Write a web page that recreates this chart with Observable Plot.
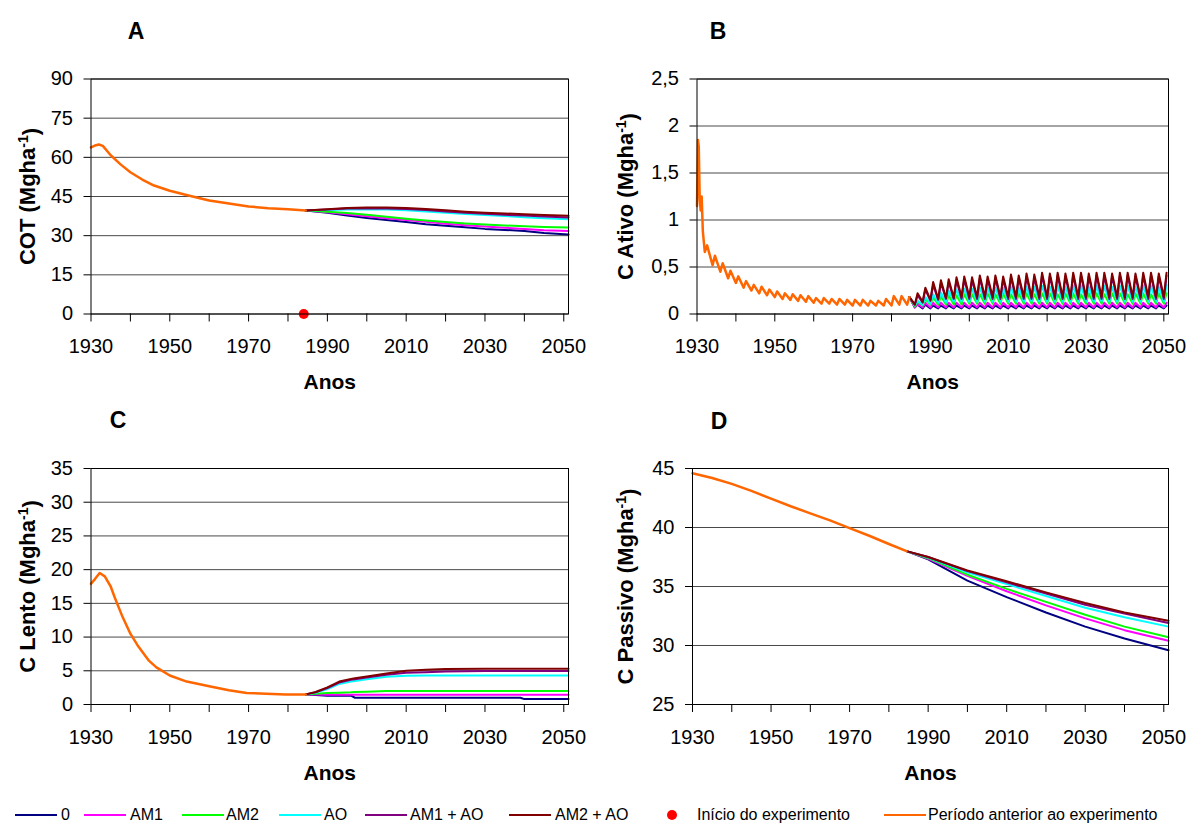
<!DOCTYPE html>
<html><head><meta charset="utf-8">
<script src="https://cdn.jsdelivr.net/npm/d3@7"></script>
<script src="https://cdn.jsdelivr.net/npm/@observablehq/plot@0.6"></script>
<style>
body{margin:0;background:#fff;font-family:'Liberation Sans',Arial,sans-serif;}
#root{position:relative;width:1189px;height:825px;overflow:hidden;background:#fff;}
#root svg{position:absolute;}
.ptitle{position:absolute;font-weight:bold;font-size:23px;transform:translate(-50%,-50%);line-height:1;}
.legtext{position:absolute;font-size:16px;white-space:nowrap;line-height:1;}
.legsw{position:absolute;height:2px;}
.legdot{position:absolute;width:10px;height:10px;border-radius:50%;}
</style></head><body><div id="root"></div><script>
// ---------- shared data ----------
const seriesNames = ["0", "AM1", "AM2", "AO", "AM1 + AO", "AM2 + AO"];
const seriesColors = ["#000080", "#FF00FF", "#00FF00", "#00FFFF", "#800080", "#800000"];
const preLabel = "Período anterior ao experimento";
const preColor = "#FF6600";
const startLabel = "Início do experimento";
const startColor = "#FF0000";
const startYear = 1984;
const xTicks = [1930, 1940, 1950, 1960, 1970, 1980, 1990, 2000, 2010, 2020, 2030, 2040, 2050];
const xLabelYears = [1930, 1950, 1970, 1990, 2010, 2030, 2050];
const xTitle = "Anos";
const panelLetters = ["A", "B", "C", "D"];

// ---------- A: COT ----------
const aTitle = "COT (Mgha⁻¹)";
const aTicks = [0, 15, 30, 45, 60, 75, 90];
const aPreYears = [1930, 1931, 1932, 1933, 1935, 1937.5, 1940, 1943, 1946, 1950, 1955, 1960, 1965, 1970, 1975, 1980, 1984.5];
const aPre = [63.8, 64.5, 64.9, 64.4, 60.8, 57.3, 54.3, 51.5, 49.2, 47.2, 45.3, 43.5, 42.3, 41.2, 40.5, 40.1, 39.6];
const aPostYears = [1984.5, 1990, 1995, 2000, 2005, 2010, 2015, 2020, 2025, 2030, 2035, 2040, 2045, 2051.2];
const a0 = [39.6, 38.8, 37.7, 36.8, 36.0, 35.2, 34.4, 33.8, 33.2, 32.6, 32.2, 31.8, 31.0, 30.4];
const aAM1 = [39.6, 39.0, 38.2, 37.4, 36.7, 36.0, 35.3, 34.6, 34.0, 33.5, 33.0, 32.6, 32.1, 31.8];
const aAM2 = [39.6, 39.2, 38.7, 38.0, 37.2, 36.5, 35.8, 35.2, 34.7, 34.3, 33.9, 33.6, 33.3, 33.1];
const aAO = [39.6, 39.8, 40.0, 40.1, 40.0, 39.7, 39.3, 38.8, 38.3, 37.9, 37.5, 37.1, 36.7, 36.3];
const aAM1AO = [39.6, 40.0, 40.4, 40.5, 40.4, 40.2, 39.8, 39.3, 38.8, 38.4, 38.0, 37.7, 37.3, 37.0];
const aAM2AO = [39.6, 40.1, 40.6, 40.8, 40.8, 40.6, 40.2, 39.7, 39.2, 38.8, 38.5, 38.2, 37.9, 37.6];

// ---------- B: C Ativo ----------
const bTitle = "C Ativo (Mgha⁻¹)";
const bTicks = [0, 0.5, 1, 1.5, 2, 2.5];
const bSpikeYears = [1930, 1930.25, 1930.45, 1930.7, 1930.95, 1931.2, 1931.5, 1931.8];
const bSpike = [1.15, 1.85, 1.78, 1.22, 1.1, 1.25, 0.88, 0.75];
const bPreCycleYears = [1932, 1934, 1936, 1938, 1940, 1942, 1944, 1946, 1948, 1950, 1952, 1954, 1956, 1958, 1960, 1962, 1964, 1966, 1968, 1970, 1972, 1974, 1976, 1978, 1980, 1982, 1984];
const bPrePeak = [0.73, 0.62, 0.54, 0.46, 0.40, 0.35, 0.31, 0.29, 0.26, 0.24, 0.22, 0.21, 0.20, 0.19, 0.17, 0.17, 0.16, 0.16, 0.15, 0.15, 0.15, 0.14, 0.14, 0.16, 0.19, 0.19, 0.18];
const bPreTrough = [0.66, 0.52, 0.45, 0.38, 0.33, 0.28, 0.25, 0.22, 0.20, 0.18, 0.16, 0.15, 0.14, 0.13, 0.12, 0.11, 0.11, 0.10, 0.10, 0.09, 0.09, 0.09, 0.09, 0.09, 0.09, 0.10, 0.10];
const bCycleYears = [1986, 1988, 1990, 1992, 1994, 1996, 1998, 2000, 2002, 2004, 2006, 2008, 2010, 2012, 2014, 2016, 2018, 2020, 2022, 2024, 2026, 2028, 2030, 2032, 2034, 2036, 2038, 2040, 2042, 2044, 2046, 2048, 2050];
const b0Peak = [0.10, 0.10, 0.09, 0.09, 0.09, 0.09, 0.09, 0.09, 0.09, 0.09, 0.09, 0.09, 0.09, 0.09, 0.09, 0.09, 0.09, 0.09, 0.09, 0.09, 0.09, 0.09, 0.09, 0.09, 0.09, 0.09, 0.09, 0.09, 0.09, 0.09, 0.09, 0.09, 0.09];
const b0Trough = [0.07, 0.06, 0.06, 0.06, 0.06, 0.06, 0.06, 0.06, 0.06, 0.06, 0.06, 0.06, 0.06, 0.06, 0.06, 0.06, 0.06, 0.06, 0.06, 0.06, 0.06, 0.06, 0.06, 0.06, 0.06, 0.06, 0.06, 0.06, 0.06, 0.06, 0.06, 0.06, 0.06];
const bAM1Peak = [0.11, 0.12, 0.12, 0.12, 0.12, 0.12, 0.12, 0.12, 0.12, 0.12, 0.12, 0.12, 0.12, 0.12, 0.12, 0.12, 0.12, 0.12, 0.12, 0.12, 0.12, 0.12, 0.12, 0.12, 0.12, 0.12, 0.12, 0.12, 0.12, 0.12, 0.12, 0.12, 0.12];
const bAM1Trough = [0.07, 0.07, 0.07, 0.07, 0.07, 0.07, 0.07, 0.07, 0.07, 0.07, 0.07, 0.07, 0.07, 0.07, 0.07, 0.07, 0.07, 0.07, 0.07, 0.07, 0.07, 0.07, 0.07, 0.07, 0.07, 0.07, 0.07, 0.07, 0.07, 0.07, 0.07, 0.07, 0.07];
const bAM2Peak = [0.13, 0.16, 0.18, 0.19, 0.20, 0.20, 0.21, 0.21, 0.21, 0.22, 0.21, 0.22, 0.21, 0.22, 0.22, 0.21, 0.22, 0.22, 0.21, 0.22, 0.22, 0.21, 0.22, 0.22, 0.21, 0.22, 0.22, 0.21, 0.22, 0.22, 0.21, 0.22, 0.22];
const bAM2Trough = [0.08, 0.09, 0.10, 0.10, 0.10, 0.10, 0.10, 0.11, 0.11, 0.11, 0.11, 0.11, 0.11, 0.11, 0.11, 0.11, 0.11, 0.11, 0.11, 0.11, 0.11, 0.11, 0.11, 0.11, 0.11, 0.11, 0.11, 0.11, 0.11, 0.11, 0.11, 0.11, 0.11];
const bAOPeak = [0.14, 0.18, 0.21, 0.23, 0.25, 0.26, 0.27, 0.27, 0.28, 0.28, 0.28, 0.28, 0.29, 0.28, 0.29, 0.29, 0.30, 0.29, 0.30, 0.29, 0.30, 0.30, 0.29, 0.30, 0.30, 0.29, 0.30, 0.30, 0.29, 0.30, 0.30, 0.29, 0.31];
const bAOTrough = [0.09, 0.10, 0.11, 0.12, 0.12, 0.13, 0.13, 0.13, 0.13, 0.13, 0.13, 0.13, 0.13, 0.13, 0.13, 0.13, 0.13, 0.13, 0.13, 0.13, 0.13, 0.13, 0.13, 0.13, 0.13, 0.13, 0.13, 0.13, 0.13, 0.13, 0.13, 0.13, 0.13];
const bAM1AOPeak = [0.20, 0.26, 0.31, 0.33, 0.34, 0.36, 0.37, 0.36, 0.38, 0.37, 0.38, 0.37, 0.39, 0.38, 0.40, 0.39, 0.41, 0.40, 0.41, 0.40, 0.41, 0.41, 0.40, 0.41, 0.41, 0.40, 0.41, 0.41, 0.40, 0.41, 0.41, 0.40, 0.41];
const bAM1AOTrough = [0.10, 0.12, 0.14, 0.15, 0.16, 0.16, 0.16, 0.16, 0.16, 0.16, 0.16, 0.16, 0.16, 0.16, 0.16, 0.16, 0.16, 0.16, 0.16, 0.16, 0.16, 0.16, 0.16, 0.16, 0.16, 0.16, 0.16, 0.16, 0.16, 0.16, 0.16, 0.16, 0.16];
const bAM2AOPeak = [0.22, 0.28, 0.34, 0.36, 0.37, 0.39, 0.40, 0.39, 0.41, 0.40, 0.41, 0.40, 0.42, 0.41, 0.43, 0.42, 0.44, 0.43, 0.44, 0.43, 0.44, 0.44, 0.43, 0.44, 0.44, 0.43, 0.44, 0.44, 0.43, 0.44, 0.44, 0.43, 0.44];
const bAM2AOTrough = [0.10, 0.13, 0.15, 0.16, 0.17, 0.17, 0.18, 0.18, 0.18, 0.18, 0.18, 0.18, 0.18, 0.18, 0.18, 0.18, 0.18, 0.18, 0.18, 0.18, 0.18, 0.18, 0.18, 0.18, 0.18, 0.18, 0.18, 0.18, 0.18, 0.18, 0.18, 0.18, 0.18];

// ---------- C: C Lento ----------
const cTitle = "C Lento (Mgha⁻¹)";
const cTicks = [0, 5, 10, 15, 20, 25, 30, 35];
const cPreYears = [1930, 1931, 1932.2, 1933.5, 1935, 1936, 1938, 1940, 1941.8, 1944.7, 1946.6, 1950, 1954.3, 1960, 1965, 1969.5, 1974.5, 1979.4, 1984.5];
const cPre = [17.9, 18.6, 19.5, 19.0, 17.5, 15.9, 13.0, 10.5, 8.8, 6.5, 5.5, 4.3, 3.4, 2.7, 2.1, 1.7, 1.6, 1.5, 1.5];
const cPostYears = [1984.5, 1987, 1990, 1993, 1996, 1997, 2000, 2005, 2010, 2015, 2020, 2030, 2039, 2040, 2051.2];
const c0 = [1.5, 1.4, 1.3, 1.3, 1.3, 1.0, 1.0, 1.0, 1.0, 1.0, 1.0, 1.0, 1.0, 0.8, 0.8];
const cAM1 = [1.5, 1.5, 1.45, 1.45, 1.45, 1.45, 1.45, 1.45, 1.45, 1.45, 1.45, 1.45, 1.45, 1.45, 1.45];
const cAM2 = [1.5, 1.6, 1.7, 1.75, 1.8, 1.85, 1.9, 2.0, 2.0, 2.0, 2.0, 2.0, 2.0, 2.0, 2.0];
const cAO = [1.5, 1.75, 2.3, 3.05, 3.4, 3.5, 3.75, 4.1, 4.25, 4.3, 4.3, 4.3, 4.3, 4.3, 4.3];
const cAM1AO = [1.5, 1.8, 2.45, 3.25, 3.65, 3.75, 4.0, 4.4, 4.7, 4.8, 4.9, 4.95, 4.95, 4.95, 4.95];
const cAM2AO = [1.5, 1.85, 2.55, 3.4, 3.8, 3.9, 4.15, 4.6, 5.0, 5.15, 5.25, 5.3, 5.3, 5.3, 5.3];

// ---------- D: C Passivo ----------
const dTitle = "C Passivo (Mgha⁻¹)";
const dTicks = [25, 30, 35, 40, 45];
const dPreYears = [1930, 1935, 1940, 1945, 1950, 1955, 1960, 1965, 1970, 1975, 1980, 1984.5];
const dPre = [44.6, 44.2, 43.7, 43.1, 42.45, 41.8, 41.2, 40.6, 39.95, 39.3, 38.6, 38.0];
const dPostYears = [1984.5, 1990, 2000, 2010, 2020, 2030, 2040, 2051.2];
const d0 = [38.0, 37.3, 35.5, 34.1, 32.8, 31.6, 30.6, 29.6];
const dAM1 = [38.0, 37.35, 35.9, 34.6, 33.4, 32.3, 31.3, 30.4];
const dAM2 = [38.0, 37.4, 36.0, 34.8, 33.7, 32.6, 31.6, 30.7];
const dAO = [38.0, 37.45, 36.2, 35.2, 34.2, 33.2, 32.4, 31.6];
const dAM1AO = [38.0, 37.5, 36.3, 35.35, 34.4, 33.45, 32.7, 31.9];
const dAM2AO = [38.0, 37.5, 36.35, 35.45, 34.5, 33.6, 32.8, 32.1];

// ---------- builders ----------
const FONT = "'Liberation Sans', Arial, sans-serif";
function pairs(ts, vs) { return ts.map((t, i) => ({t, v: vs[i]})); }
function longRows(years, arrays) {
  const rows = [];
  arrays.forEach((vals, i) => vals.forEach((v, j) => rows.push({t: years[j], v, s: seriesNames[i]})));
  return rows;
}
function zigzag(cycleYears, peaks, troughs, offset) {
  const pts = [];
  cycleYears.forEach((y, i) => { pts.push({t: y, v: troughs[i]}); pts.push({t: y + offset, v: peaks[i]}); });
  return pts;
}

const aPreRows = pairs(aPreYears, aPre);
const aPostRows = longRows(aPostYears, [a0, aAM1, aAM2, aAO, aAM1AO, aAM2AO]);

const bPreRows = pairs(bSpikeYears, bSpike).concat(zigzag(bPreCycleYears, bPrePeak, bPreTrough, 0.6));
const bJoin = bPreRows[bPreRows.length - 1];
const bPostRows = [];
[[b0Peak, b0Trough], [bAM1Peak, bAM1Trough], [bAM2Peak, bAM2Trough], [bAOPeak, bAOTrough], [bAM1AOPeak, bAM1AOTrough], [bAM2AOPeak, bAM2AOTrough]]
  .forEach(([pk, tr], i) => {
    bPostRows.push({t: bJoin.t, v: bJoin.v, s: seriesNames[i]});
    zigzag(bCycleYears, pk, tr, 0.7).forEach(p => bPostRows.push({...p, s: seriesNames[i]}));
  });

const cPreRows = pairs(cPreYears, cPre);
const cPostRows = longRows(cPostYears, [c0, cAM1, cAM2, cAO, cAM1AO, cAM2AO]);
const dPreRows = pairs(dPreYears, dPre);
const dPostRows = longRows(dPostYears, [d0, dAM1, dAM2, dAO, dAM1AO, dAM2AO]);

function makePanel(cfg) {
  const svg = Plot.plot({
    width: cfg.width, height: cfg.height,
    marginLeft: cfg.ml, marginRight: cfg.mr, marginTop: cfg.mt, marginBottom: cfg.mb,
    style: {fontFamily: FONT, fontSize: "20px", color: "#000", background: "transparent", overflow: "visible"},
    x: {domain: [1930, 2051.2]},
    y: {domain: cfg.yDomain},
    color: {domain: seriesNames, range: seriesColors},
    marks: [
      Plot.ruleY(cfg.yTicks, {stroke: "#4a4a4a", strokeWidth: 1}),
      Plot.line(cfg.post, {x: "t", y: "v", z: "s", stroke: "s", strokeWidth: 2}),
      Plot.line(cfg.pre, {x: "t", y: "v", stroke: preColor, strokeWidth: 2.5}),
      ...(cfg.extra || []),
      Plot.frame({stroke: "#000", strokeWidth: 1}),
      Plot.axisX(xTicks, {tickSize: 8, tickPadding: 17, tickFormat: d => xLabelYears.includes(d) ? String(d) : "", label: null, fontSize: 20}),
      Plot.axisY(cfg.yTicks, {tickSize: 7, tickPadding: 11, tickFormat: cfg.fmt, label: null, fontSize: 20}),
      Plot.text([xTitle], {frameAnchor: "bottom", dy: 75, lineAnchor: "bottom", textAnchor: "middle", fontWeight: "bold", fontSize: 21}),
      Plot.text([cfg.yTitle], {frameAnchor: "left", dx: cfg.ytdx, rotate: -90, textAnchor: "middle", lineAnchor: "middle", fontWeight: "bold", fontSize: 22})
    ]
  });
  svg.style.left = cfg.left + "px";
  svg.style.top = cfg.top + "px";
  d3.select(svg).selectAll("text").filter(function () { return this.textContent.includes("⁻¹"); })
    .each(function () {
      const parts = this.textContent.split("⁻¹");
      const t = d3.select(this);
      t.text(null);
      t.append("tspan").text(parts[0]);
      t.append("tspan").attr("dy", "-0.45em").attr("font-size", "14px").text("-1");
      t.append("tspan").attr("dy", "0.45em").text(parts[1]);
    });
  return svg;
}

const root = document.getElementById("root");
const commaFmt = d => String(d).replace(".", ",");

root.appendChild(makePanel({left: 0, top: 0, width: 595, height: 400, ml: 90.5, mr: 27, mt: 78.5, mb: 86.5,
  yDomain: [0, 90], yTicks: aTicks, fmt: d => String(d), yTitle: aTitle, ytdx: -63.5,
  pre: aPreRows, post: aPostRows,
  extra: [Plot.dot([{t: startYear, v: 0}], {x: "t", y: "v", r: 5, fill: startColor, stroke: "none"})]}));
root.appendChild(makePanel({left: 595, top: 0, width: 594, height: 400, ml: 101.5, mr: 21, mt: 78.5, mb: 86.5,
  yDomain: [0, 2.5], yTicks: bTicks, fmt: commaFmt, yTitle: bTitle, ytdx: -71.5,
  pre: bPreRows, post: bPostRows}));
root.appendChild(makePanel({left: 0, top: 400, width: 595, height: 400, ml: 90.5, mr: 27, mt: 68, mb: 96,
  yDomain: [0, 35], yTicks: cTicks, fmt: d => String(d), yTitle: cTitle, ytdx: -63.5,
  pre: cPreRows, post: cPostRows}));
root.appendChild(makePanel({left: 595, top: 400, width: 594, height: 400, ml: 97, mr: 21, mt: 68, mb: 96,
  yDomain: [25, 45], yTicks: dTicks, fmt: d => String(d), yTitle: dTitle, ytdx: -67,
  pre: dPreRows, post: dPostRows}));

// panel letters
const letterPos = [[136, 31], [718, 31], [118, 420], [719, 421]];
panelLetters.forEach((L, i) => {
  const el = document.createElement("div");
  el.className = "ptitle"; el.textContent = L;
  el.style.left = letterPos[i][0] + "px"; el.style.top = letterPos[i][1] + "px";
  root.appendChild(el);
});

// legend
const legendItems = seriesNames.map((n, i) => ({label: n, color: seriesColors[i], kind: "line"}))
  .concat([{label: startLabel, color: startColor, kind: "dot"}, {label: preLabel, color: preColor, kind: "line"}]);
const legendSwatchX = [15, 84, 182, 279, 365, 509, 667, 884];
const legendTextX = [61, 130, 226, 324, 410, 555, 697, 928];
const legendY = 815;
legendItems.forEach((it, i) => {
  if (it.kind === "line") {
    const sw = document.createElement("div");
    sw.className = "legsw"; sw.style.background = it.color;
    sw.style.left = legendSwatchX[i] + "px"; sw.style.width = "42px"; sw.style.top = (legendY - 1) + "px";
    root.appendChild(sw);
  } else {
    const dt = document.createElement("div");
    dt.className = "legdot"; dt.style.background = it.color;
    dt.style.left = legendSwatchX[i] + "px"; dt.style.top = (legendY - 5) + "px";
    root.appendChild(dt);
  }
  const tx = document.createElement("div");
  tx.className = "legtext"; tx.textContent = it.label;
  tx.style.left = legendTextX[i] + "px"; tx.style.top = (legendY - 8) + "px";
  root.appendChild(tx);
});
</script></body></html>
